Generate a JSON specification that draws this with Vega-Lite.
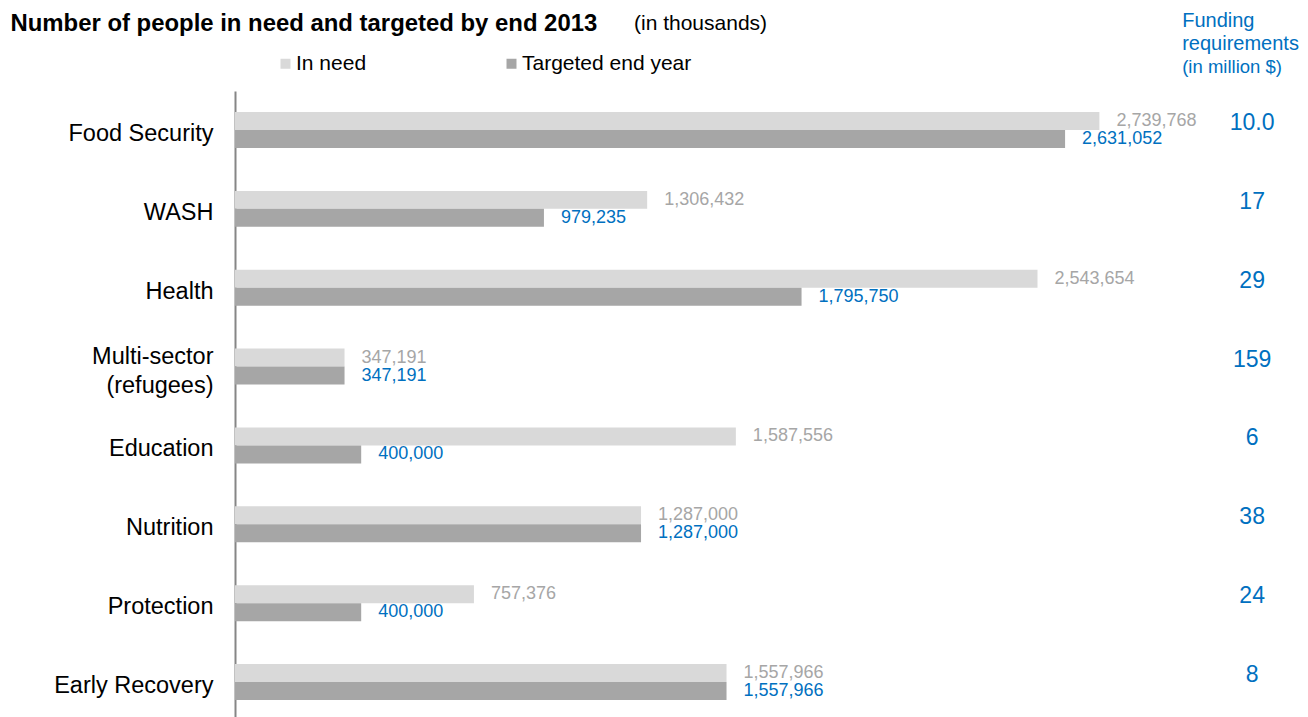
{
  "$schema": "https://vega.github.io/schema/vega-lite/v6.json",
  "width": 1073,
  "height": 626,
  "autosize": {"type": "none"},
  "padding": {"left": 235, "top": 91, "right": 0, "bottom": 0},
  "background": "white",
  "config": {"font": "Liberation Sans", "view": {"stroke": null}},
  "title": {"text": "(in thousands)", "anchor": "start", "frame": "group", "dx": 399, "dy": 23, "offset": 0, "fontSize": 21, "fontWeight": "normal", "color": "#000000"},
  "datasets": {
    "people": [
      {"category": "Food Security", "series": "In need", "value": 2739768},
      {"category": "Food Security", "series": "Targeted end year", "value": 2631052},
      {"category": "WASH", "series": "In need", "value": 1306432},
      {"category": "WASH", "series": "Targeted end year", "value": 979235},
      {"category": "Health", "series": "In need", "value": 2543654},
      {"category": "Health", "series": "Targeted end year", "value": 1795750},
      {"category": "Multi-sector (refugees)", "series": "In need", "value": 347191},
      {"category": "Multi-sector (refugees)", "series": "Targeted end year", "value": 347191},
      {"category": "Education", "series": "In need", "value": 1587556},
      {"category": "Education", "series": "Targeted end year", "value": 400000},
      {"category": "Nutrition", "series": "In need", "value": 1287000},
      {"category": "Nutrition", "series": "Targeted end year", "value": 1287000},
      {"category": "Protection", "series": "In need", "value": 757376},
      {"category": "Protection", "series": "Targeted end year", "value": 400000},
      {"category": "Early Recovery", "series": "In need", "value": 1557966},
      {"category": "Early Recovery", "series": "Targeted end year", "value": 1557966}
    ],
    "funding": [
      {"category": "Food Security", "funding": "10.0"},
      {"category": "WASH", "funding": "17"},
      {"category": "Health", "funding": "29"},
      {"category": "Multi-sector (refugees)", "funding": "159"},
      {"category": "Education", "funding": "6"},
      {"category": "Nutrition", "funding": "38"},
      {"category": "Protection", "funding": "24"},
      {"category": "Early Recovery", "funding": "8"}
    ]
  },
  "resolve": {"axis": {"y": "independent"}},
  "layer": [
    {
      "data": {"name": "people"},
      "mark": {"type": "bar"},
      "encoding": {
        "y": {
          "field": "category", "type": "nominal",
          "scale": {"domain": ["Food Security", "WASH", "Health", "Multi-sector (refugees)", "Education", "Nutrition", "Protection", "Early Recovery"], "paddingInner": 0.5435, "paddingOuter": 0.241, "align": 0.553},
          "axis": {
            "orient": "left", "grid": false, "ticks": false,
            "domainColor": "#868686", "domainWidth": 2,
            "labelFontSize": 23.5, "labelColor": "#000000", "labelPadding": 22, "labelLimit": 400,
            "labelLineHeight": 29,
            "labelOffset": {"condition": {"test": "datum.value == 'Multi-sector (refugees)'", "value": -10}, "value": 4},
            "labelExpr": "datum.value == 'Multi-sector (refugees)' ? ['Multi-sector', '(refugees)'] : datum.value",
            "title": "Number of people in need and targeted by end 2013",
            "titleAngle": 0, "titleX": -225, "titleY": -61, "titleAlign": "left", "titleBaseline": "alphabetic",
            "titleFontSize": 23.9, "titleFontWeight": "bold", "titleColor": "#000000"
          }
        },
        "yOffset": {"field": "series", "type": "nominal", "scale": {"paddingInner": 0, "paddingOuter": 0}},
        "x": {
          "field": "value", "type": "quantitative",
          "scale": {"domain": [0, 3401000], "nice": false, "zero": true},
          "axis": {
            "orient": "top", "labels": false, "ticks": false, "domain": false, "grid": false,
            "title": "(in million $)", "titleX": 946.7, "titleY": -18.3, "titleAlign": "left", "titleBaseline": "alphabetic",
            "titleAngle": 0, "titleFontSize": 18.5, "titleFontWeight": "normal", "titleColor": "#0070c0"
          }
        },
        "color": {
          "field": "series", "type": "nominal",
          "scale": {"domain": ["In need", "Targeted end year"], "range": ["#d9d9d9", "#a6a6a6"]},
          "legend": {
            "orient": "none", "legendX": 40, "legendY": -38, "direction": "horizontal", "title": null,
            "symbolType": "square", "symbolSize": 100, "symbolStrokeWidth": 0,
            "labelFontSize": 21, "labelColor": "#000000", "labelOffset": 0, "columnPadding": 134, "padding": 0, "labelLimit": 400
          }
        }
      }
    },
    {
      "data": {"name": "people"},
      "mark": {"type": "text", "align": "left", "baseline": "middle", "dx": 17, "fontSize": 18},
      "encoding": {
        "y": {"field": "category", "type": "nominal", "axis": null},
        "yOffset": {"field": "series", "type": "nominal"},
        "x": {"field": "value", "type": "quantitative"},
        "text": {"field": "value", "type": "quantitative", "format": ","},
        "color": {"condition": {"test": "datum.series === 'In need'", "value": "#a6a6a6"}, "value": "#0070c0"}
      }
    },
    {
      "data": {"name": "funding"},
      "mark": {"type": "text", "align": "center", "baseline": "middle", "fontSize": 23, "color": "#0070c0", "dy": -7},
      "encoding": {
        "y": {
          "field": "category", "type": "nominal",
          "axis": {
            "orient": "right", "labels": false, "ticks": false, "domain": false, "grid": false,
            "title": ["Funding", "requirements"], "titleAngle": 0, "titleX": -126.3, "titleY": -64.3,
            "titleAlign": "left", "titleBaseline": "alphabetic", "titleFontSize": 20, "titleFontWeight": "normal",
            "titleColor": "#0070c0", "titleLineHeight": 23.3
          }
        },
        "x": {"datum": 3224000, "type": "quantitative"},
        "text": {"field": "funding", "type": "nominal"}
      }
    }
  ]
}
